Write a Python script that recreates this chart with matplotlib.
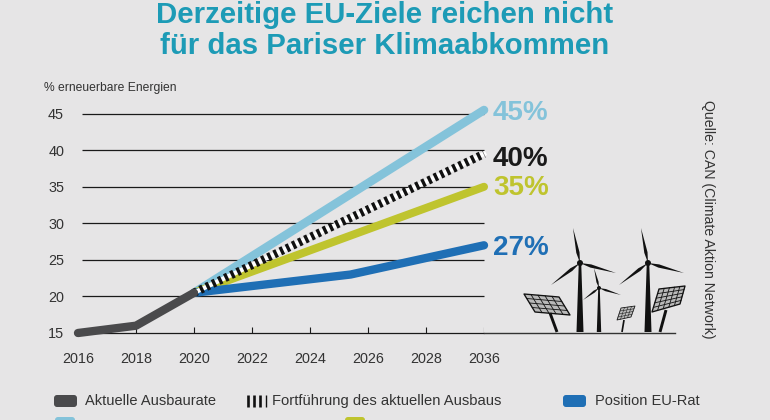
import matplotlib
matplotlib.use("Agg")
import matplotlib.pyplot as plt
from matplotlib.patches import FancyBboxPatch, Polygon

plt.rcParams['font.family'] = ['Liberation Sans', 'DejaVu Sans']

W = 770
H = 420
BG = '#e6e5e6'

# data
years = ['2016', '2018', '2020', '2022', '2024', '2026', '2028', '2036']
y_ticks = [15, 20, 25, 30, 35, 40, 45]

current_x = [0, 1, 2]
current_y = [15, 16, 20.5]
council_x = [2, 4.7, 7]
council_y = [20.5, 23, 27]
target_x = [2, 7]
target35_y = [20.5, 35]
target40_y = [20.5, 39.5]
target45_y = [20.5, 45.5]

GREY = '#4a4a4c'
BLUE = '#1f6fb5'
LIGHT = '#84c3da'
YELLOW = '#bfc42e'
TEAL = '#1d9bb6'
TEXT = '#333333'


def px_box(left, top, right, bottom):
    return [left / W, 1 - bottom / H, (right - left) / W, (bottom - top) / H]


fig = plt.figure(figsize=(W / 100, H / 100), dpi=100, facecolor=BG)

# main chart, 15 sits on y=333 and 45 on y=114
ax = fig.add_axes(px_box(78, 100, 484, 333))
ax.set_facecolor('none')
ax.set_xlim(0, 7)
ax.set_ylim(15, 15 + (333 - 100) / 7.31)
for s in ax.spines.values():
    s.set_visible(False)

ax.hlines(y_ticks, 0.07, 7, color='#1a1a1a', lw=0.9, zorder=1, clip_on=False)
ax.vlines(range(1, 8), 15, 15.8, color='#1a1a1a', lw=0.8, zorder=1)

ax.plot(target_x, target45_y, color=LIGHT, lw=6.2, solid_capstyle='round', zorder=2, clip_on=False)
ax.plot(target_x, target35_y, color=YELLOW, lw=5.8, solid_capstyle='round', zorder=3, clip_on=False)
ax.plot(council_x, council_y, color=BLUE, lw=6, solid_capstyle='round', zorder=3, clip_on=False)
ax.plot(target_x, target40_y, color='white', lw=3.2, zorder=4, clip_on=False)
ax.plot(target_x, target40_y, color='#111111', lw=6, ls=(0, (0.4, 0.42)), zorder=5, clip_on=False)
ax.plot(current_x, current_y, color=GREY, lw=6, solid_capstyle='round', zorder=6, clip_on=False)

ax.set_xticks(range(len(years)), years)
ax.set_yticks(y_ticks)
ax.tick_params(axis='both', length=0, labelsize=10.4, labelcolor=TEXT)
ax.tick_params(axis='x', pad=14)
ax.tick_params(axis='y', pad=10)

# overlay in pixel coordinates for title, legend and the icons
ov = fig.add_axes([0, 0, 1, 1])
ov.set_xlim(0, W)
ov.set_ylim(H, 0)
ov.axis('off')
ov.patch.set_alpha(0)

# end labels
ov.text(493, 113, '45%', color=LIGHT, fontsize=20, fontweight='bold', va='center')
ov.text(493, 159, '40%', color='#1a1a1a', fontsize=20, fontweight='bold', va='center')
ov.text(493, 188, '35%', color=YELLOW, fontsize=20, fontweight='bold', va='center')
ov.text(493, 248, '27%', color=BLUE, fontsize=20, fontweight='bold', va='center')

ov.text(385, 15, 'Derzeitige EU-Ziele reichen nicht', color=TEAL, fontsize=21.2,
        fontweight='bold', ha='center', va='center')
ov.text(385, 46, 'für das Pariser Klimaabkommen', color=TEAL, fontsize=21.2,
        fontweight='bold', ha='center', va='center')
ov.text(44, 88, '% erneuerbare Energien', color=TEXT, fontsize=8.7, va='center')
ov.text(708, 219, 'Quelle: CAN (Climate Aktion Network)', color=TEXT, fontsize=10.2,
        rotation=270, ha='center', va='center')

ov.plot([484, 675], [333, 333], color='#333333', lw=1)


def swatch(x, y, w, h, color):
    ov.add_patch(FancyBboxPatch((x + 3, y + 3), w - 6, h - 6, boxstyle='round,pad=3',
                                fc=color, ec='none', clip_on=True))


swatch(54, 395, 23, 12, GREY)
swatch(563, 395, 23, 12, BLUE)
swatch(55, 417, 20, 12, LIGHT)
swatch(345, 417, 20, 12, YELLOW)
for x in [248, 254, 260, 266]:
    ov.plot([x, x], [395, 407], color='#111111', lw=1.9 if x < 266 else 1, solid_capstyle='butt')
ov.text(85, 401, 'Aktuelle Ausbaurate', color=TEXT, fontsize=10.5, va='center')
ov.text(272, 401, 'Fortführung des aktuellen Ausbaus', color=TEXT, fontsize=10.6, va='center')
ov.text(595, 401, 'Position EU-Rat', color=TEXT, fontsize=10.5, va='center')


def turbine(hub, base_y, tips, tower_w, hub_r):
    hx, hy = hub
    ov.add_patch(Polygon([(hx - tower_w * 0.35, hy), (hx + tower_w * 0.35, hy),
                          (hx + tower_w, base_y), (hx - tower_w, base_y)], fc='#111111', ec='none'))
    for tx, ty in tips:
        # leaf shaped blade, widest near the hub
        mx = hx + (tx - hx) * 0.3
        my = hy + (ty - hy) * 0.3
        dx, dy = tx - hx, ty - hy
        n = (dx ** 2 + dy ** 2) ** 0.5
        ox, oy = -dy / n * hub_r * 0.55, dx / n * hub_r * 0.55
        ov.add_patch(Polygon([(hx, hy), (mx + ox, my + oy), (tx, ty), (mx - ox, my - oy)],
                             fc='#111111', ec='none'))
    ov.add_patch(plt.Circle((hx, hy), hub_r, fc='#111111', ec='none'))


turbine((580, 263), 332, [(573, 228), (616, 273), (551, 285)], 3.5, 3)
turbine((648, 263), 332, [(641, 228), (684, 273), (619, 285)], 3.5, 3)
turbine((599, 288), 332, [(594, 268), (621, 295), (583, 300)], 2.2, 2)


def panel(corners, post, rows, cols, lw):
    a, b, c, d = corners
    ov.add_patch(Polygon(corners, fc='#b9b9b9', ec='#111111', lw=lw * 1.6, joinstyle='round'))
    for i in range(1, rows):
        t = i / rows
        ov.plot([a[0] + (d[0] - a[0]) * t, b[0] + (c[0] - b[0]) * t],
                [a[1] + (d[1] - a[1]) * t, b[1] + (c[1] - b[1]) * t], color='#111111', lw=lw)
    for i in range(1, cols):
        t = i / cols
        ov.plot([a[0] + (b[0] - a[0]) * t, d[0] + (c[0] - d[0]) * t],
                [a[1] + (b[1] - a[1]) * t, d[1] + (c[1] - d[1]) * t], color='#111111', lw=lw)
    ov.plot([post[0], post[2]], [post[1], post[3]], color='#111111', lw=lw * 3.5, solid_capstyle='butt')


panel([(524, 294), (559, 297), (570, 315), (535, 312)], (550, 313, 557, 332), 4, 5, 0.6)
panel([(659, 289), (685, 286), (680, 304), (652, 312)], (666, 310, 660, 332), 5, 5, 0.6)
panel([(621, 308), (635, 306), (631, 317), (617, 320)], (624, 320, 622, 332), 4, 4, 0.35)

fig.savefig('out.png', dpi=100, facecolor=BG)
